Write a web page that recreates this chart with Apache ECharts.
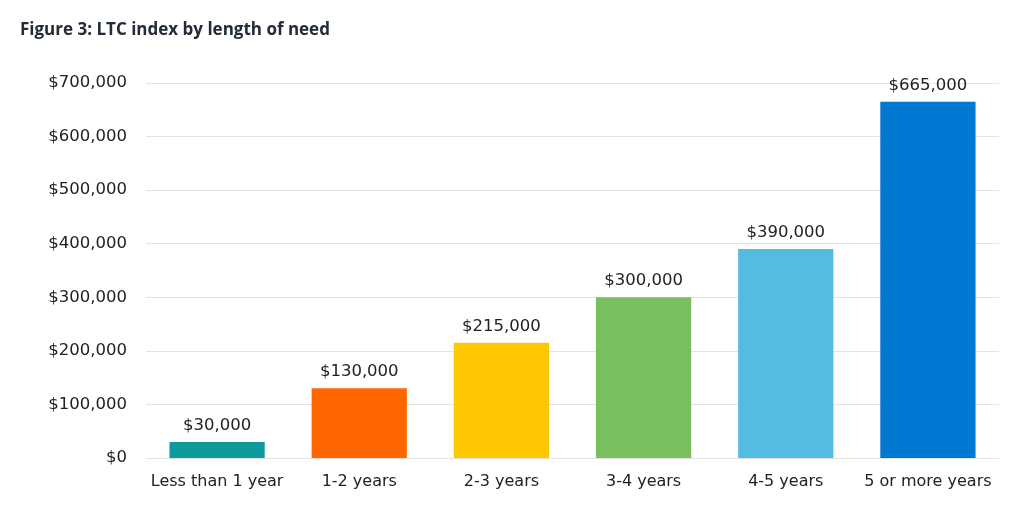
<!DOCTYPE html>
<html><head><meta charset="utf-8">
<script src="https://cdn.jsdelivr.net/npm/echarts@6/dist/echarts.min.js"></script>
<style>html,body{margin:0;padding:0;background:#fff}#c{width:1024px;height:522px}</style>
</head><body><div id="c"></div>
<script>
const categories = ["Less than 1 year", "1-2 years", "2-3 years", "3-4 years", "4-5 years", "5 or more years"];
const values = [30000, 130000, 215000, 300000, 390000, 665000];
const barColors = ["#0f9a9c", "#ff6600", "#ffc700", "#78bf60", "#55bce1", "#0077d1"];
const titleText = "Figure 3: LTC index by length of need";

const fmt = v => "$" + v.toLocaleString("en-US");
const FONT = "DejaVu Sans";
const chart = echarts.init(document.getElementById("c"));
chart.setOption({
  animation: false,
  title: {text: titleText, left: 20, top: 22, padding: 0, textStyle: {fontFamily: "Open Sans", fontWeight: "bold", fontSize: 17, color: "#222b37"}},
  grid: {left: 146, right: 25, top: 83, bottom: 64},
  xAxis: {type: "category", data: categories,
    axisLine: {show: false}, axisTick: {show: false},
    axisLabel: {interval: 0, fontFamily: FONT, fontSize: 16, color: "#222", margin: 16}},
  yAxis: {type: "value", min: 0, max: 700000, interval: 100000,
    axisLabel: {formatter: fmt, fontFamily: FONT, fontSize: 16.5, color: "#222", margin: 19},
    splitLine: {lineStyle: {color: "#e3e3e3", width: 1}}},
  series: [{type: "bar", barCategoryGap: "33%",
    data: values.map((v, i) => ({value: v, itemStyle: {color: barColors[i]}})),
    label: {show: true, position: "top", distance: 8, formatter: p => fmt(p.value), fontFamily: FONT, fontSize: 16.5, color: "#222"}}]
});
</script></body></html>
